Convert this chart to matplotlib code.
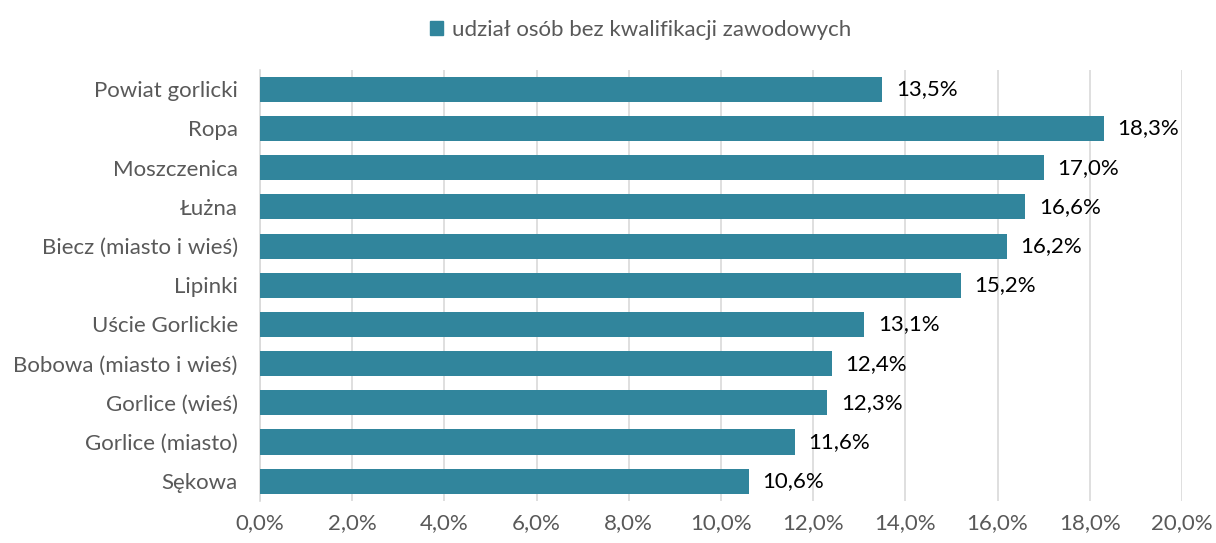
import matplotlib.pyplot as plt
from matplotlib.patches import Patch
from matplotlib.ticker import FuncFormatter

plt.rcParams['font.family'] = ['Lato', 'DejaVu Sans']

labels = ["Powiat gorlicki", "Ropa", "Moszczenica", "Łużna", "Biecz (miasto i wieś)",
          "Lipinki", "Uście Gorlickie", "Bobowa (miasto i wieś)", "Gorlice (wieś)",
          "Gorlice (miasto)", "Sękowa"]
values = [13.5, 18.3, 17.0, 16.6, 16.2, 15.2, 13.1, 12.4, 12.3, 11.6, 10.6]
series_name = "udział osób bez kwalifikacji zawodowych"

bar_color = "#31859C"
grey = "#595959"

fig = plt.figure(figsize=(12.16, 5.43), dpi=100)
ax = fig.add_axes([0.2138, 0.0777, 0.7582, 0.794])

ypos = list(range(len(labels)))
ax.barh(ypos, values, height=0.64, color=bar_color, zorder=3)
for y, v in zip(ypos, values):
    ax.annotate(f"{v:.1f}%".replace(".", ","), (v, y), xytext=(10, 0),
                textcoords="offset points", va="center", ha="left",
                fontsize=16, color="black")

ax.set_ylim(len(labels) - 0.5, -0.5)
ax.set_xlim(0, 20)
ax.set_xticks(range(0, 21, 2))
ax.xaxis.set_major_formatter(FuncFormatter(lambda x, p: f"{x:.1f}%".replace(".", ",")))
ax.set_yticks(ypos)
ax.set_yticklabels(labels)
ax.tick_params(axis="both", length=0, labelsize=16, colors=grey)
ax.tick_params(axis="x", pad=9)
ax.tick_params(axis="y", pad=16)
ax.grid(axis="x", color="#D9D9D9", linewidth=1.2, zorder=0)
for s in ["top", "right", "bottom"]:
    ax.spines[s].set_visible(False)
ax.spines["left"].set_color("#D9D9D9")
ax.spines["left"].set_linewidth(1.2)

fig.legend(handles=[Patch(color=bar_color)], labels=[series_name], loc="upper center",
           bbox_to_anchor=(0.527, 1.0), frameon=False, fontsize=16, labelcolor=grey,
           handlelength=0.6, handleheight=0.6, handletextpad=0.4)

fig.savefig("out.png", dpi=100)
